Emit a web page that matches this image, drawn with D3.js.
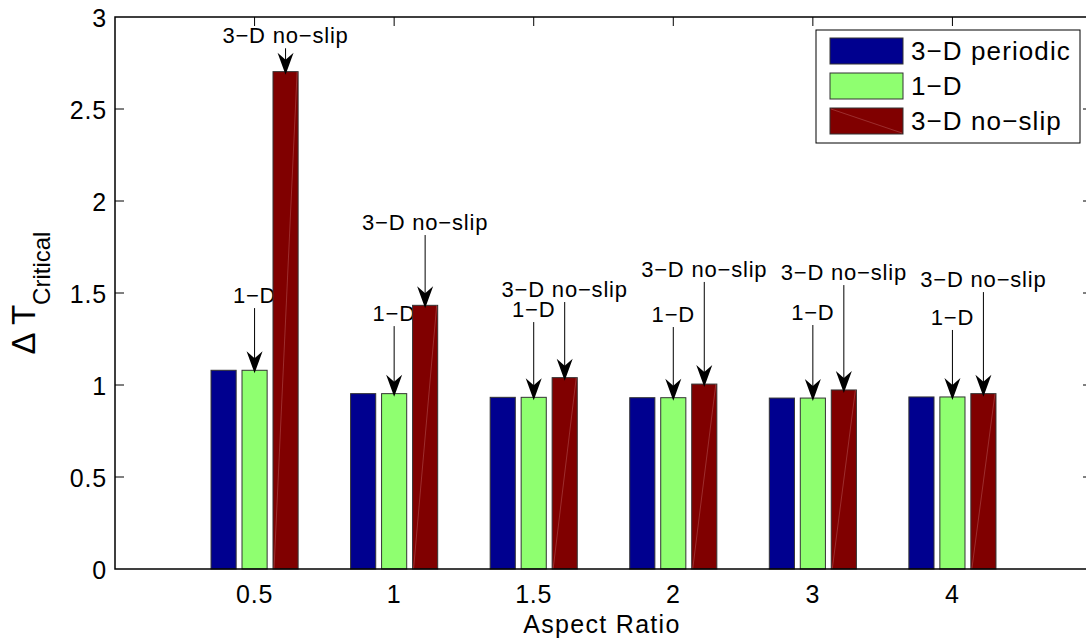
<!DOCTYPE html>
<html>
<head>
<meta charset="utf-8">
<script src="https://cdn.jsdelivr.net/npm/d3@7"></script>
<style>
  body { margin: 0; background: #fff; }
  text { font-family: "Liberation Sans", Arial, sans-serif; fill: #000; }
</style>
</head>
<body>
<div class="chart"></div>
<script>
var svgWidth = 1086;
var svgHeight = 639;

// chart data
var categories = ["0.5", "1", "1.5", "2", "3", "4"];
var seriesNames = ["3\u2212D periodic", "1\u2212D", "3\u2212D no\u2212slip"];
var periodic3D = [1.08, 0.953, 0.933, 0.931, 0.929, 0.935];
var oneD = [1.08, 0.953, 0.933, 0.931, 0.929, 0.935];
var noSlip3D = [2.703, 1.433, 1.040, 1.005, 0.973, 0.953];
var yTicks = [0, 0.5, 1, 1.5, 2, 2.5, 3];
// annotation arrow tails (data units) for "1-D" and "3-D no-slip" labels
var tail1D = [1.418, 1.32, 1.342, 1.315, 1.326, 1.299];
var tailNoSlip = [2.83, 1.815, 1.451, 1.56, 1.543, 1.505];

var colors = ["#00008f", "#8fff70", "#800000"];

var margin = { top: 17, left: 115 };

var svg = d3.select(".chart")
  .append("svg")
  .attr("width", svgWidth)
  .attr("height", svgHeight);

// x in "group units": groups sit at 1..6, axis spans 0..7
var xScale = d3.scaleLinear().domain([0, 7]).range([margin.left, 1092]);
var yScale = d3.scaleLinear().domain([0, 3]).range([569, margin.top]);

var unit = xScale(1) - xScale(0);
var offset = 0.222;   // bar centre offset within group
var barW = 0.18 * unit;
var series = [periodic3D, oneD, noSlip3D];

function barX(i, s) {
  return xScale(i + 1 + (s - 1) * offset);
}

// annotation labels go under the bars (as in the original)
var labelG = svg.append("g");
var barG = svg.append("g");
var arrowG = svg.append("g");

// bars
series.forEach(function (vals, s) {
  var g = barG.append("g");
  g.selectAll("rect")
    .data(vals)
    .enter()
    .append("rect")
    .attr("x", (d, i) => barX(i, s) - barW / 2)
    .attr("y", d => yScale(d))
    .attr("width", barW)
    .attr("height", d => yScale(0) - yScale(d))
    .attr("fill", colors[s])
    .attr("stroke", "#333")
    .attr("stroke-width", 1);
  if (s === 2) {
    // faint rendering streak on the no-slip bars
    g.selectAll("line")
      .data(vals)
      .enter()
      .append("line")
      .attr("x1", (d, i) => barX(i, s) - barW / 2 + 1)
      .attr("y1", yScale(0))
      .attr("x2", (d, i) => barX(i, s) + barW / 2 - 1)
      .attr("y2", d => yScale(d))
      .attr("stroke", "#d08080")
      .attr("stroke-width", 0.6)
      .attr("opacity", 0.6);
  }
});

// axes box
var axisG = svg.append("g");
axisG.append("rect")
  .attr("x", xScale(0)).attr("y", yScale(3))
  .attr("width", xScale(7) - xScale(0))
  .attr("height", yScale(0) - yScale(3))
  .attr("fill", "none")
  .attr("stroke", "#000")
  .attr("stroke-width", 1.5);

// y ticks left and right (inward)
yTicks.forEach(function (t) {
  if (t > 0 && t < 3) {
    axisG.append("line")
      .attr("x1", xScale(0)).attr("x2", xScale(0) + 9)
      .attr("y1", yScale(t)).attr("y2", yScale(t))
      .attr("stroke", "#000").attr("stroke-width", 1);
    axisG.append("line")
      .attr("x1", xScale(7)).attr("x2", xScale(7) - 9)
      .attr("y1", yScale(t)).attr("y2", yScale(t))
      .attr("stroke", "#000").attr("stroke-width", 1);
  }
  axisG.append("text")
    .attr("x", xScale(0) - 8)
    .attr("y", yScale(t) + 10)
    .attr("text-anchor", "end")
    .style("font-size", "25px")
    .style("letter-spacing", "0.8px")
    .text(d3.format("")(t));
});

// x ticks (top inward) and labels
categories.forEach(function (c, i) {
  axisG.append("line")
    .attr("x1", xScale(i + 1)).attr("x2", xScale(i + 1))
    .attr("y1", yScale(3)).attr("y2", yScale(3) + 9)
    .attr("stroke", "#000").attr("stroke-width", 1);
  axisG.append("text")
    .attr("x", xScale(i + 1))
    .attr("y", 603)
    .attr("text-anchor", "middle")
    .style("font-size", "25px")
    .style("letter-spacing", "0.8px")
    .text(c);
});

// axis titles
svg.append("text")
  .attr("x", 602)
  .attr("y", 633)
  .attr("text-anchor", "middle")
  .style("font-size", "25px")
  .style("letter-spacing", "1.3px")
  .text("Aspect Ratio");

var yt = svg.append("text")
  .attr("transform", "translate(35, 293) rotate(-90)")
  .attr("text-anchor", "middle")
  .style("font-size", "33px");
yt.append("tspan").text("\u0394 T");
yt.append("tspan").attr("dy", 15).style("font-size", "24px").text("Critical");

// annotations
function annotate(i, s, tail, label) {
  var cx = barX(i, s);
  var tipY = yScale(series[s][i]) + 3;
  var tailY = yScale(tail);
  arrowG.append("line")
    .attr("x1", cx).attr("y1", tailY)
    .attr("x2", cx).attr("y2", tipY - 8)
    .attr("stroke", "#000").attr("stroke-width", 1);
  arrowG.append("path")
    .attr("d", `M${cx},${tipY} L${cx - 8},${tipY - 22} L${cx},${tipY - 15} L${cx + 8},${tipY - 22} Z`)
    .attr("fill", "#000");
  labelG.append("text")
    .attr("x", cx)
    .attr("y", tailY - 5)
    .attr("text-anchor", "middle")
    .style("font-size", "22px")
    .style("letter-spacing", "0.8px")
    .text(label);
}
categories.forEach(function (c, i) {
  annotate(i, 1, tail1D[i], "1\u2212D");
  annotate(i, 2, tailNoSlip[i], "3\u2212D no\u2212slip");
});

// legend
var legend = svg.append("g").attr("transform", "translate(816, 30)");
legend.append("rect")
  .attr("width", 264).attr("height", 113)
  .attr("fill", "#fff").attr("stroke", "#000").attr("stroke-width", 1);
seriesNames.forEach(function (name, s) {
  var ry = 8 + s * 35;
  legend.append("rect")
    .attr("x", 14).attr("y", ry)
    .attr("width", 73).attr("height", 26)
    .attr("fill", colors[s]).attr("stroke", "#333").attr("stroke-width", 1);
  if (s === 2) {
    legend.append("line")
      .attr("x1", 15).attr("y1", ry + 1).attr("x2", 86).attr("y2", ry + 25)
      .attr("stroke", "#d08080").attr("stroke-width", 0.6).attr("opacity", 0.6);
  }
  legend.append("text")
    .attr("x", 95).attr("y", ry + 22)
    .style("font-size", "26px")
    .style("letter-spacing", "1.1px")
    .text(name);
});
</script>
</body>
</html>
